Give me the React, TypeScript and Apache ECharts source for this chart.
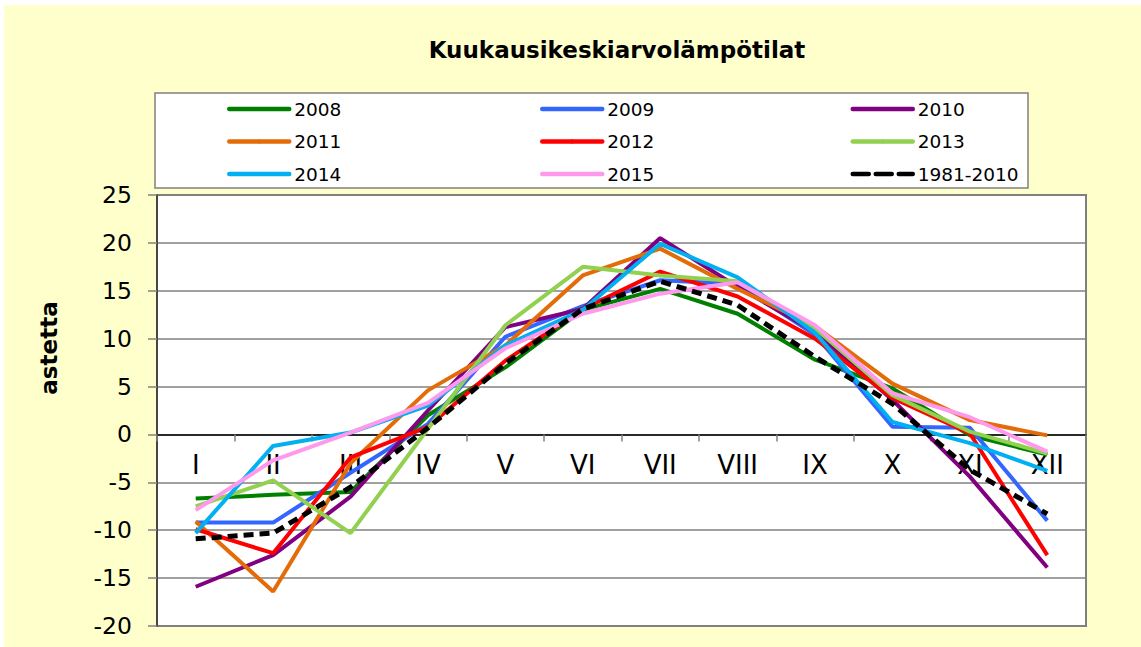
import React, { useEffect, useRef } from 'react';
import * as echarts from 'echarts';

const months = ['I', 'II', 'III', 'IV', 'V', 'VI', 'VII', 'VIII', 'IX', 'X', 'XI', 'XII'];
const yTicks = { min: -20, max: 25, interval: 5 };

const y2008 = [-6.7, -6.3, -6.0, 2.0, 7.0, 13.0, 15.2, 12.6, 7.8, 4.8, -0.1, -2.1];
const y2009 = [-9.2, -9.2, -4.0, 1.1, 10.2, 13.4, 16.1, 15.7, 10.4, 0.8, 0.7, -9.0];
const y2010 = [-15.9, -12.6, -6.5, 2.5, 11.2, 13.1, 20.5, 15.4, 10.7, 3.6, -4.4, -13.9];
const y2011 = [-9.1, -16.4, -3.0, 4.6, 9.3, 16.6, 19.4, 15.2, 11.3, 5.3, 1.5, -0.1];
const y2012 = [-9.9, -12.4, -2.4, 0.8, 7.7, 13.1, 17.0, 14.4, 10.0, 3.8, 0.1, -12.6];
const y2013 = [-7.5, -4.8, -10.3, 0.6, 11.4, 17.5, 16.6, 16.0, 11.1, 4.1, 0.3, -2.0];
const y2014 = [-10.3, -1.2, 0.2, 3.0, 9.3, 13.0, 19.9, 16.4, 10.6, 1.3, -0.9, -3.8];
const y2015 = [-7.9, -2.7, 0.2, 3.3, 9.0, 12.6, 14.7, 15.9, 11.4, 4.3, 1.8, -1.8];
const normal = [-10.9, -10.3, -5.5, 0.7, 7.4, 13.1, 16.0, 13.5, 8.1, 3.2, -3.7, -8.3];

const seriesNames = ['2008', '2009', '2010', '2011', '2012', '2013', '2014', '2015', '1981-2010'];
const seriesData = [y2008, y2009, y2010, y2011, y2012, y2013, y2014, y2015, normal];
const seriesColors = ['#008000', '#3366FF', '#800080', '#E36C09', '#FF0000', '#92D050', '#00B0F0', '#FF99EE', '#000000'];

const FONT = '"DejaVu Sans", sans-serif';

const GRID_TOP = 190;
const GRID_HEIGHT = 431;
// distance from the bottom of the plot to the zero line, from the y scale
const ZERO_OFFSET = (GRID_HEIGHT * (0 - yTicks.min)) / (yTicks.max - yTicks.min);

export default function App() {
  const ref = useRef<HTMLDivElement>(null);
  useEffect(() => {
    const chart = echarts.init(ref.current!, null, { renderer: 'svg' });
    const legendCommon = {
      orient: 'vertical',
      itemWidth: 60,
      itemHeight: 5,
      itemGap: 13.5,
      padding: 0,
      selectedMode: false,
      textStyle: { fontFamily: FONT, fontSize: 18.5, color: '#000' },
      lineStyle: { width: 4.5, cap: 'round' },
    };
    chart.setOption({
      animation: false,
      backgroundColor: '#FFFFCC',
      textStyle: { fontFamily: FONT },
      graphic: [
        {
          type: 'rect',
          shape: { x: 151, y: 88, width: 873, height: 95 },
          style: { fill: '#fff', stroke: '#808080', lineWidth: 1.5 },
        },
        {
          type: 'text',
          x: 613,
          y: 45,
          style: {
            text: 'Kuukausikeskiarvolämpötilat',
            font: 'bold 23px "DejaVu Sans", sans-serif',
            fill: '#000',
            align: 'center',
            verticalAlign: 'middle',
          },
        },
        {
          type: 'text',
          x: 45,
          y: 343,
          rotation: Math.PI / 2,
          style: {
            text: 'astetta',
            font: 'bold 23px "DejaVu Sans", sans-serif',
            fill: '#000',
            align: 'center',
            verticalAlign: 'middle',
          },
        },
      ],
      legend: [
        { ...legendCommon, left: 223, top: 94.5, data: ['2008', '2011', '2014'] },
        { ...legendCommon, left: 536, top: 94.5, data: ['2009', '2012', '2015'] },
        {
          ...legendCommon,
          left: 846.5,
          top: 94.5,
          data: ['2010', '2013', { name: '1981-2010', lineStyle: { type: [16, 7], cap: 'round' } }],
        },
      ],
      grid: {
        show: true,
        left: 153,
        top: GRID_TOP,
        width: 929,
        height: GRID_HEIGHT,
        backgroundColor: '#fff',
        borderColor: '#808080',
        borderWidth: 2,
        containLabel: false,
        outerBoundsMode: 'none',
      },
      xAxis: {
        type: 'category',
        data: months,
        boundaryGap: true,
        position: 'bottom',
        offset: -ZERO_OFFSET,
        axisLine: { onZero: false, lineStyle: { color: '#000', width: 1.5 } },
        axisTick: { show: true, inside: false, length: 7, lineStyle: { color: '#808080', width: 1.5 } },
        axisLabel: { fontFamily: FONT, fontSize: 26, color: '#000', margin: 18 },
        splitLine: { show: false },
      },
      yAxis: {
        type: 'value',
        min: yTicks.min,
        max: yTicks.max,
        interval: yTicks.interval,
        axisLine: { show: true, lineStyle: { color: '#333', width: 1.5 } },
        axisTick: { show: true, length: 9, lineStyle: { color: '#808080', width: 1.5 } },
        axisLabel: { fontFamily: FONT, fontSize: 23.5, color: '#000', margin: 25 },
        splitLine: { show: true, lineStyle: { color: '#808080', width: 1.5 } },
      },
      series: seriesNames.map((name, i) => ({
        name,
        type: 'line',
        data: seriesData[i],
        symbol: 'none',
        color: seriesColors[i],
        lineStyle:
          name === '1981-2010'
            ? { color: '#000', width: 5, type: [10, 6] }
            : { color: seriesColors[i], width: 4 },
        z: 2 + i,
      })),
    });
    return () => chart.dispose();
  }, []);
  return (
    <div style={{ position: 'fixed', left: 0, top: 0, width: 1141, height: 647, background: '#fff' }}>
      <div ref={ref} style={{ position: 'absolute', left: 4, top: 5, width: 1137, height: 642 }} />
    </div>
  );
}
